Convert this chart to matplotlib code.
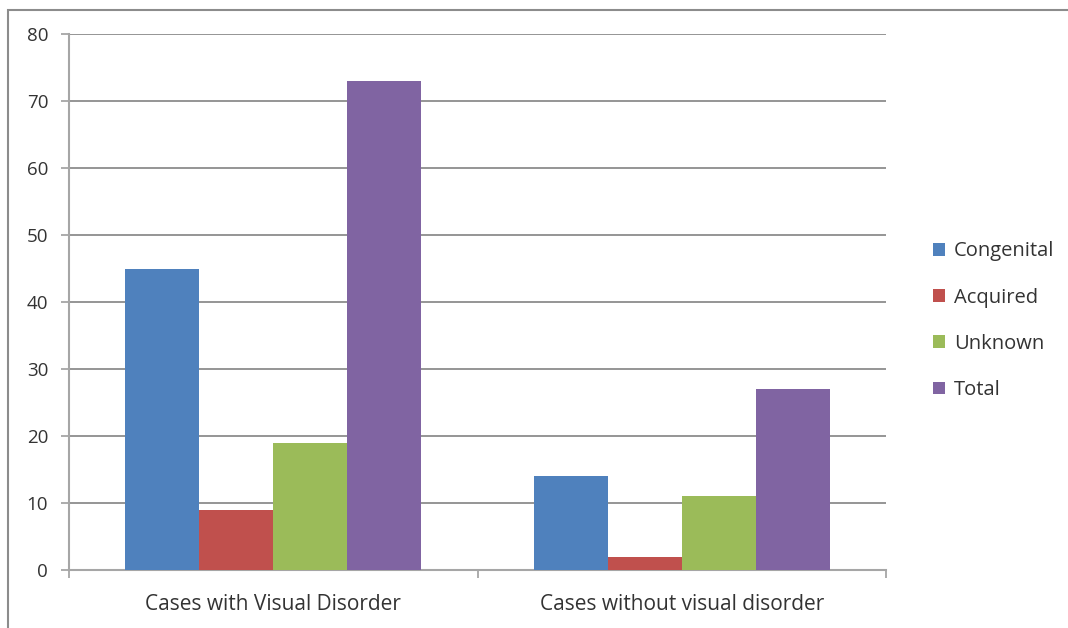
import matplotlib
matplotlib.use("Agg")
import matplotlib.pyplot as plt
from matplotlib.patches import Rectangle
import numpy as np

categories = ["Cases with Visual Disorder", "Cases without visual disorder"]
series_names = ["Congenital", "Acquired", "Unknown", "Total"]
congenital = [45, 14]
acquired = [9, 2]
unknown = [19, 11]
total = [73, 27]
y_ticks = [0, 10, 20, 30, 40, 50, 60, 70, 80]

colors = ["#4F81BD", "#C0504D", "#9BBB59", "#8064A2"]
series = [congenital, acquired, unknown, total]

plt.rcParams["font.family"] = ["Open Sans", "DejaVu Sans"]

W, H = 1068, 628
fig = plt.figure(figsize=(W / 100, H / 100), dpi=100)
fig.patch.set_facecolor("white")

# outer chart border
fig.patches.append(Rectangle((8 / W, -0.01), 1.2, 1 - 10 / H + 0.01,
                             transform=fig.transFigure, fill=False,
                             edgecolor="#8c8c8c", linewidth=1.5, zorder=0))

ax = fig.add_axes([69 / W, 1 - 570 / H, (886 - 69) / W, (570 - 34) / H])

x = np.arange(len(categories))
bw = 74 / 408.5
offsets = (np.arange(len(series)) - 1.5) * bw
for s, vals, col, off in zip(series_names, series, colors, offsets):
    ax.bar(x + off, vals, width=bw, color=col, label=s, zorder=3)

ax.set_xlim(-0.5, 1.5)
ax.set_ylim(0, 80)
ax.set_yticks(y_ticks)
ax.yaxis.grid(True, color="#8c8c8c", linewidth=1.3, zorder=0)
ax.set_axisbelow(True)

for side in ["top", "right"]:
    ax.spines[side].set_visible(False)
ax.spines["left"].set_color("#a6a6a6")
ax.spines["left"].set_linewidth(1.5)
ax.spines["bottom"].set_color("#a6a6a6")
ax.spines["bottom"].set_linewidth(1.5)

ax.tick_params(axis="y", length=6, width=1.3, color="#a6a6a6",
               labelsize=13.5, labelcolor="#333333", pad=9)

# category labels centred, tick marks at category boundaries
ax.set_xticks([-0.5, 0.5, 1.5])
ax.set_xticklabels([])
ax.tick_params(axis="x", length=6, width=1.3, color="#a6a6a6")
ax.set_xticks(x, minor=True)
ax.set_xticklabels(categories, minor=True)
ax.tick_params(axis="x", which="minor", length=0, labelsize=15,
               labelcolor="#333333", pad=17)

leg = ax.legend(loc="center left", bbox_to_anchor=(1.035, 0.465), frameon=False,
                fontsize=14.5, handlelength=0.6, handleheight=0.6,
                handletextpad=0.45, labelspacing=1.3, labelcolor="#333333")

fig.savefig("out.png", dpi=100)
